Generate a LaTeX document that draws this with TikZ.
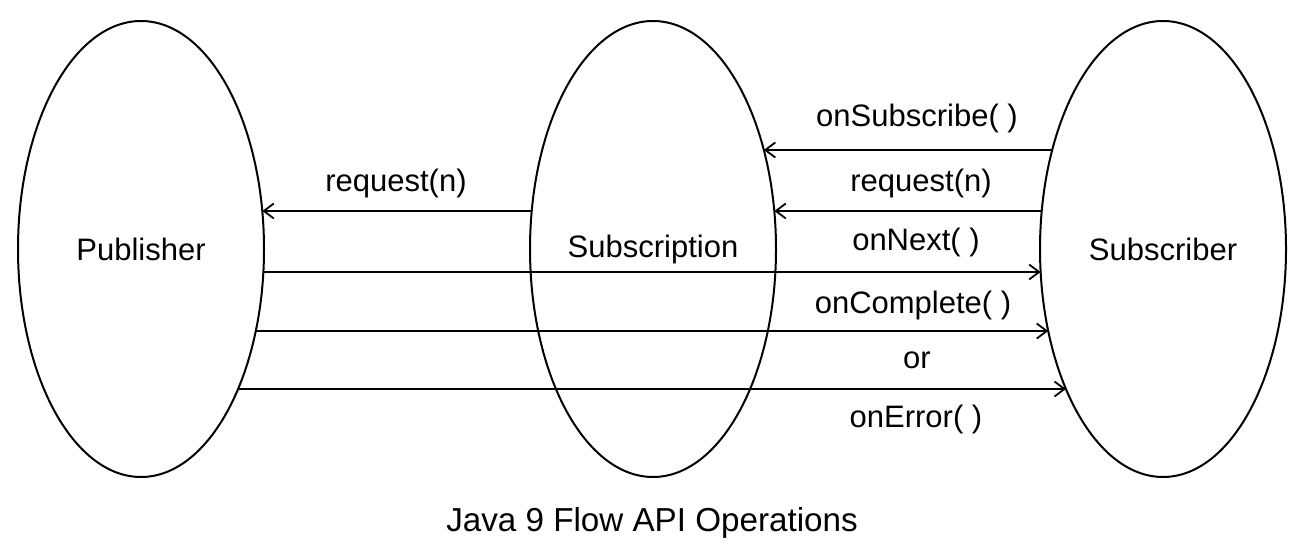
\documentclass[tikz,border=0pt]{standalone}
\usepackage{fontspec}
\setmainfont{Liberation Sans}
\usetikzlibrary{shapes.geometric,calc,arrows.meta}

% point on the rim of an ellipse node, dy (px) from its centre, side -1/1
\newcommand{\rim}[4]{\coordinate (#1) at ($(#2)+({#4*123*sqrt(1-((#3)/228)^2)},#3)$);}

\begin{document}
\begin{tikzpicture}
    [x=0.5pt,y=-0.5pt,>={Straight Barb[length=5pt,width=7.5pt]},
     party/.style={draw, ellipse, line width=1pt, minimum width=123pt, minimum height=228pt,
                   inner sep=0pt, font=\fontsize{15.5}{18}\selectfont},
     call/.style={inner sep=0pt, text height=11pt, text depth=3.3pt, font=\fontsize{15.5}{18}\selectfont},
     flow/.style={->, line width=0.9pt}]
  \useasboundingbox (0,0) rectangle (1304,550);

  \node[party] (pub) at (141,249) {Publisher};
  \node[party] (scr) at (653,249) {Subscription};
  \node[party] (sbr) at (1163,249) {Subscriber};

  % ends of the calls
  \foreach \nm/\nd/\dy/\sd in {s1/sbr/-99/-1, s2/scr/-99/1,
                               r1/sbr/-38/-1, r2/scr/-38/1,
                               q1/scr/-38/-1, q2/pub/-38/1,
                               n1/pub/23/1,  n2/sbr/23/-1,
                               c1/pub/82/1,  c2/sbr/82/-1,
                               e1/pub/140/1, e2/sbr/140/-1}
    {\rim{\nm}{\nd}{\dy}{\sd}}

  \foreach \from/\to in {s1/s2, r1/r2, q1/q2, n1/n2, c1/c2, e1/e2}
    \draw[flow] (\from) -- (\to);

  \node[call] (lsub) at (917,119) {onSubscribe( )};
  \node[call] (lreq) at (921,184) {request(n)};
  \node[call] (lreq2) at (396,184) {request(n)};
  \node[call] (lnext) at (916,243) {onNext( )};
  \node[call] (lcomp) at (913,306) {onComplete( )};
  \node[call] (lor) at (917,361) {or};
  \node[call] (lerr) at (916,420) {onError( )};

  \node[font=\fontsize{16.6}{20}\selectfont] (title) at (652,523) {Java 9 Flow API Operations};
\end{tikzpicture}
\end{document}
